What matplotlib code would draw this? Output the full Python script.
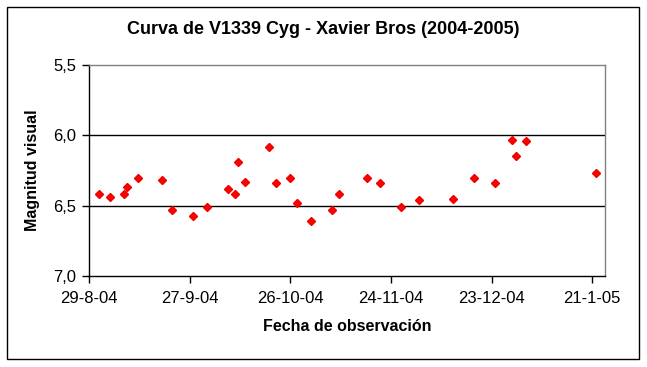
import datetime as dt

import matplotlib
matplotlib.use("Agg")
import matplotlib.pyplot as plt
import matplotlib.dates as mdates
from matplotlib.patches import Rectangle
from matplotlib.ticker import FuncFormatter

plt.rcParams['font.family'] = ['Liberation Sans', 'DejaVu Sans']

fechas = ['2004-09-01', '2004-09-04', '2004-09-08', '2004-09-09', '2004-09-12',
          '2004-09-19', '2004-09-22', '2004-09-28', '2004-10-02', '2004-10-08',
          '2004-10-10', '2004-10-11', '2004-10-13', '2004-10-20', '2004-10-22',
          '2004-10-26', '2004-10-28', '2004-11-01', '2004-11-07', '2004-11-09',
          '2004-11-17', '2004-11-21', '2004-11-27', '2004-12-02', '2004-12-12',
          '2004-12-18', '2004-12-24', '2004-12-29', '2004-12-30', '2005-01-02',
          '2005-01-22']
magnitudes = [6.42, 6.44, 6.42, 6.37, 6.30,
              6.32, 6.53, 6.57, 6.51, 6.38,
              6.42, 6.19, 6.33, 6.08, 6.34,
              6.30, 6.48, 6.61, 6.53, 6.42,
              6.30, 6.34, 6.51, 6.46, 6.45,
              6.30, 6.34, 6.03, 6.15, 6.04,
              6.27]

inicio = dt.datetime(2004, 8, 29)
ticks_x = [inicio + dt.timedelta(days=29 * i) for i in range(6)]
ticks_y = [5.5, 6.0, 6.5, 7.0]

xs = [dt.datetime.strptime(f, '%Y-%m-%d') for f in fechas]

fig = plt.figure(figsize=(6.47, 3.67), dpi=100)
W, H = 647, 367
fig.patches.append(Rectangle((7 / W, (H - 359) / H), 632 / W, 352 / H,
                             transform=fig.transFigure, fill=False,
                             edgecolor='black', linewidth=1.0))

ax = fig.add_axes([89 / W, (H - 276) / H, (605 - 89) / W, (276 - 65) / H])
ax.plot(xs, magnitudes, linestyle='none', marker='D', markersize=4.5,
        color='#ff0000', markeredgecolor='#ee0000')

ax.set_xlim(inicio, inicio + dt.timedelta(days=148.7))
ax.set_ylim(7.0, 5.5)
ax.set_xticks(ticks_x)
ax.set_yticks(ticks_y)
ax.xaxis.set_major_formatter(FuncFormatter(
    lambda v, p: (lambda d: f"{d.day}-{d.month}-{d.strftime('%y')}")(mdates.num2date(v))))
ax.yaxis.set_major_formatter(FuncFormatter(lambda v, p: f"{v:.1f}".replace('.', ',')))

for y in [6.0, 6.5]:
    ax.axhline(y, color='black', linewidth=1.0, zorder=1)

ax.spines['top'].set_color('#808080')
ax.spines['right'].set_color('#808080')
ax.spines['left'].set_color('black')
ax.spines['bottom'].set_color('black')
for s in ax.spines.values():
    s.set_linewidth(1.0)

ax.tick_params(direction='out', length=5, width=1, labelsize=12, pad=4)
ax.tick_params(axis='x', pad=6)

ax.set_xlabel('Fecha de observación', fontsize=11.5, fontweight='bold', labelpad=9)
ax.set_ylabel('Magnitud visual', fontsize=11.5, fontweight='bold', labelpad=10)
fig.text(0.5, (H - 30) / H, 'Curva de V1339 Cyg - Xavier Bros (2004-2005)',
         ha='center', va='center', fontsize=13, fontweight='bold')

fig.savefig('out.png', dpi=100)
